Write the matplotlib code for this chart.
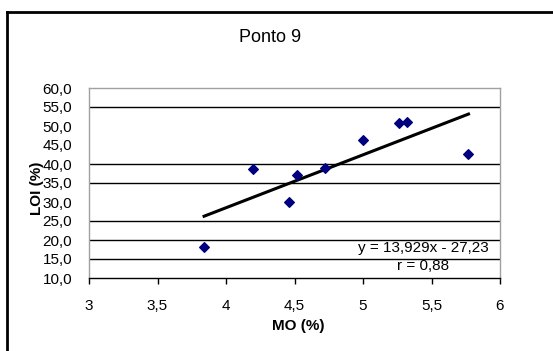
import matplotlib.pyplot as plt
from matplotlib.lines import Line2D

plt.rcParams['font.family'] = ['Liberation Sans', 'DejaVu Sans']

# Ponto 9 data: MO (%) vs LOI (%)
mo = [3.84, 4.20, 4.46, 4.52, 4.72, 5.00, 5.26, 5.32, 5.77]
loi = [18.2, 38.8, 29.9, 37.2, 39.0, 46.4, 50.7, 51.1, 42.6]

slope = 13.929
intercept = -27.23
r_value = 0.88

x_ticks = [3, 3.5, 4, 4.5, 5, 5.5, 6]
x_labels = ['3', '3,5', '4', '4,5', '5', '5,5', '6']
y_ticks = [10, 15, 20, 25, 30, 35, 40, 45, 50, 55, 60]
y_labels = ['10,0', '15,0', '20,0', '25,0', '30,0', '35,0', '40,0',
            '45,0', '50,0', '55,0', '60,0']
# gridlines that show up in the original picture
grid_levels = [15, 20, 25, 35, 40, 55]

fig = plt.figure(figsize=(5.53, 3.51), dpi=100)
ax = fig.add_axes([89 / 553, 1 - 278 / 351, 411 / 553, 190 / 351])

for g in grid_levels:
    ax.axhline(g, color='black', lw=1.0, zorder=1)

ax.scatter(mo, loi, marker='D', s=24, color='#000080', zorder=3)

x0, x1 = min(mo), max(mo)
ax.plot([x0, x1], [slope * x0 + intercept, slope * x1 + intercept],
        color='black', lw=2.2, zorder=2)

ax.set_xlim(3, 6)
ax.set_ylim(10, 60)
ax.set_xticks(x_ticks)
ax.set_xticklabels(x_labels)
ax.set_yticks(y_ticks)
ax.set_yticklabels(y_labels)
ax.tick_params(axis='x', direction='out', length=4, width=1, pad=11,
               labelsize=11, color='black')
ax.tick_params(axis='y', length=0, pad=12, labelsize=11)

for side in ['top', 'right', 'left']:
    ax.spines[side].set_color('#a0a0a0')
    ax.spines[side].set_linewidth(1.0)
ax.spines['bottom'].set_color('black')
ax.spines['bottom'].set_linewidth(1.0)

ax.set_xlabel('MO (%)', fontsize=11, fontweight='bold')
ax.set_ylabel('LOI (%)', fontsize=11, fontweight='bold')
ax.xaxis.set_label_coords((298 - 89) / 411, -(326 - 278) / 190)
ax.yaxis.set_label_coords(-(89 - 37) / 411, (278 - 188) / 190)
ax.xaxis.label.set_va('center')
ax.yaxis.label.set_va('center')

eq = 'y = %sx - %s' % (str(slope).replace('.', ','),
                       ('%.2f' % -intercept).replace('.', ','))
ax.text(5.44, 17.9, eq, fontsize=11, ha='center', va='center', zorder=4)
ax.text(5.44, 13.2, 'r = ' + ('%.2f' % r_value).replace('.', ','),
        fontsize=11, ha='center', va='center', zorder=4)

fig.text(270 / 553, 1 - 38 / 351, 'Ponto 9', fontsize=13, ha='center', va='center')

# outer chart border (top and left edges visible)
fig.add_artist(Line2D([7 / 553, 1.0], [1 - 12 / 351, 1 - 12 / 351],
                      transform=fig.transFigure, color='black', lw=2))
fig.add_artist(Line2D([7 / 553, 7 / 553], [0.0, 1 - 12 / 351],
                      transform=fig.transFigure, color='black', lw=2))

fig.savefig('out.png', dpi=100)
